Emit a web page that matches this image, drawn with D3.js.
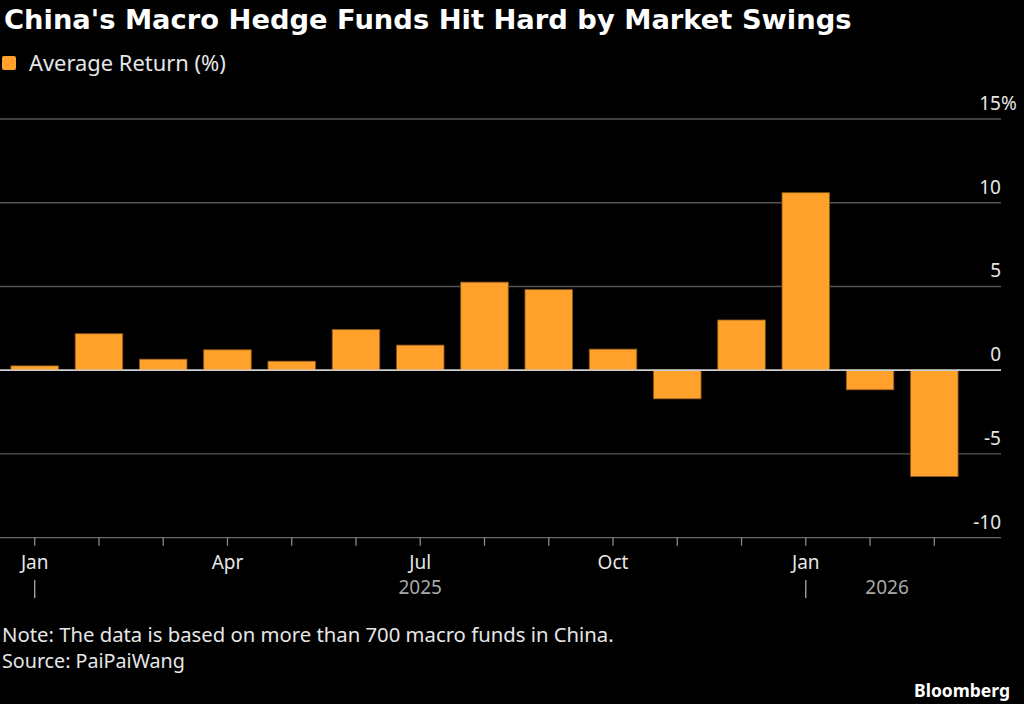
<!DOCTYPE html>
<html>
<head>
<meta charset="utf-8">
<script src="https://cdn.jsdelivr.net/npm/d3@7"></script>
<style>
  html, body { margin: 0; padding: 0; background: #000; }
  text { font-family: "Noto Sans", sans-serif; }
</style>
</head>
<body>
<svg id="chart" width="1024" height="704"></svg>
<script>
// monthly average return, Jan 2025 - Mar 2026
const months = ["2025-01", "2025-02", "2025-03", "2025-04", "2025-05", "2025-06", "2025-07",
  "2025-08", "2025-09", "2025-10", "2025-11", "2025-12", "2026-01", "2026-02", "2026-03"]
const returns = [0.26, 2.18, 0.66, 1.22, 0.54, 2.43, 1.5, 5.26, 4.82, 1.26, -1.71, 3.0, 10.6, -1.17, -6.35]
const monthLabels = {"2025-01": "Jan", "2025-04": "Apr", "2025-07": "Jul", "2025-10": "Oct", "2026-01": "Jan"}
const yTicks = [-10, -5, 0, 5, 10, 15]
const years = [{label: "2025", at: "2025-07"}, {label: "2026", at: "2026-02"}]

const svg = d3.select("#chart")
svg.append("rect").attr("width", 1024).attr("height", 704).attr("fill", "#000")

// scale a text's font size so it spans a given width
function fitWidth(sel, target) {
  const size = parseFloat(sel.style("font-size"))
  const w = sel.node().getComputedTextLength()
  if (w > 0) sel.style("font-size", (size * target / w) + "px")
  return sel
}

const gridRight = 1001

const x = d3.scaleBand()
  .domain(months)
  .range([0, 969])
  .paddingInner(0.26)
  .paddingOuter(0.17)

const y = d3.scaleLinear()
  .domain([-10, 15])
  .range([537.7, 119])

// title + legend
svg.append("text")
  .attr("x", 4).attr("y", 29)
  .attr("fill", "#fff")
  .style("font-family", "'DejaVu Sans', sans-serif")
  .style("font-size", "26px").style("font-weight", "bold")
  .text("China's Macro Hedge Funds Hit Hard by Market Swings")
  .call(fitWidth, 848)

svg.append("rect")
  .attr("x", 2).attr("y", 56).attr("width", 14).attr("height", 14).attr("rx", 2)
  .attr("fill", "#ffa12b")
svg.append("text")
  .attr("x", 29).attr("y", 71)
  .attr("fill", "#e6e6e6")
  .style("font-size", "19px")
  .text("Average Return (%)")
  .call(fitWidth, 197)

// gridlines
const grid = svg.append("g").attr("class", "grid")
grid.selectAll("line")
  .data(yTicks)
  .join("line")
    .attr("x1", 0).attr("x2", gridRight)
    .attr("y1", d => y(d)).attr("y2", d => y(d))
    .attr("stroke", d => d === 0 ? "#d0d0d0" : (d === -10 ? "#6a6a6a" : "#555"))
    .attr("stroke-width", d => d === 0 ? 1.5 : 1.3)

grid.selectAll("text")
  .data(yTicks)
  .join("text")
    .attr("x", gridRight).attr("y", d => y(d) - 9)
    .attr("text-anchor", "end")
    .attr("fill", "#e6e6e6")
    .style("font-size", "19px")
    .text(d => d)

// the % sits past the right edge of the 15 label
svg.append("text")
  .attr("x", gridRight).attr("y", y(15) - 9)
  .attr("fill", "#e6e6e6")
  .style("font-size", "19px")
  .text("%")

// bars
svg.append("g").attr("class", "bars")
  .selectAll("rect")
  .data(months.map((m, i) => ({month: m, value: returns[i]})))
  .join("rect")
    .attr("x", d => x(d.month))
    .attr("width", x.bandwidth())
    .attr("y", d => y(Math.max(0, d.value)))
    .attr("height", d => Math.abs(y(d.value) - y(0)))
    .attr("fill", "#ffa12b")
    .attr("stroke", "#8a561a")
    .attr("stroke-width", 0.8)

// redraw the zero line over the bars
svg.append("line")
  .attr("x1", 0).attr("x2", gridRight)
  .attr("y1", y(0)).attr("y2", y(0))
  .attr("stroke", "#d0d0d0").attr("stroke-width", 1.5)

// x axis ticks and labels
const xAxis = svg.append("g").attr("class", "x-axis")
const mid = m => x(m) + x.bandwidth() / 2
xAxis.selectAll("line")
  .data(months)
  .join("line")
    .attr("x1", mid).attr("x2", mid)
    .attr("y1", y(-10)).attr("y2", y(-10) + 8)
    .attr("stroke", "#8a8a8a").attr("stroke-width", 1.3)

xAxis.selectAll("text.month")
  .data(months.filter(m => monthLabels[m]))
  .join("text")
    .attr("class", "month")
    .attr("x", mid).attr("y", 569)
    .attr("text-anchor", "middle")
    .attr("fill", "#e6e6e6")
    .style("font-size", "19px")
    .text(m => monthLabels[m])

// year separators under the January labels
xAxis.selectAll("line.year-sep")
  .data(months.filter(m => m.endsWith("-01")))
  .join("line")
    .attr("class", "year-sep")
    .attr("x1", mid).attr("x2", mid)
    .attr("y1", 580).attr("y2", 598)
    .attr("stroke", "#aaa").attr("stroke-width", 1.3)

xAxis.selectAll("text.year")
  .data(years)
  .join("text")
    .attr("class", "year")
    .attr("x", d => mid(d.at) + (d.label === "2026" ? 17 : 0))
    .attr("y", 594)
    .attr("text-anchor", "middle")
    .attr("fill", "#a8a8a8")
    .style("font-size", "19px")
    .text(d => d.label)

// footer
svg.append("text")
  .attr("x", 2).attr("y", 642)
  .attr("fill", "#e6e6e6")
  .style("font-size", "17px")
  .text("Note: The data is based on more than 700 macro funds in China.")
  .call(fitWidth, 612)
svg.append("text")
  .attr("x", 2).attr("y", 668)
  .attr("fill", "#e6e6e6")
  .style("font-size", "17px")
  .text("Source: PaiPaiWang")
  .call(fitWidth, 183)
svg.append("text")
  .attr("x", 1010).attr("y", 697)
  .attr("text-anchor", "end")
  .attr("fill", "#fff")
  .style("font-size", "18px").style("font-weight", "bold")
  .text("Bloomberg")
  .call(fitWidth, 96)
</script>
</body>
</html>
